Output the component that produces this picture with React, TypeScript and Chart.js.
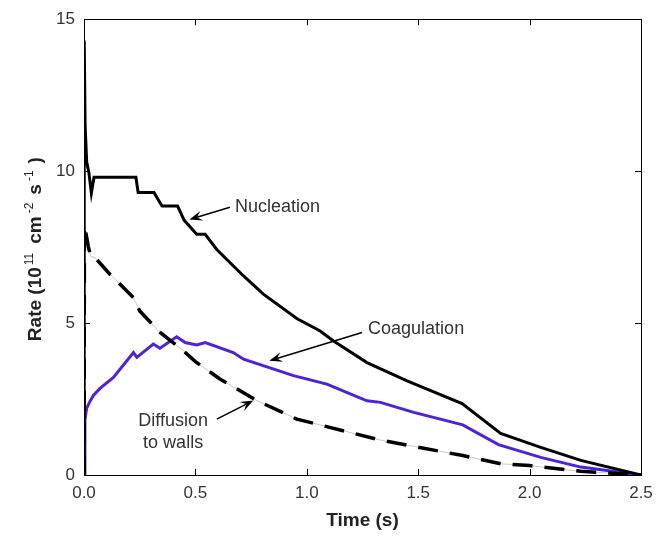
import React, { useEffect, useRef } from 'react';
import { Chart, registerables } from 'chart.js';

Chart.register(...registerables);

// ---- data ----
const xTickValues = [0, 0.5, 1.0, 1.5, 2.0, 2.5];
const yTickValues = [0, 5, 10, 15];

const nucleationTime = [0, 0.001, 0.005, 0.012, 0.022, 0.033, 0.045, 0.233, 0.243, 0.314, 0.35, 0.42, 0.45, 0.506, 0.544, 0.596, 0.716, 0.805, 0.955, 1.06, 1.12, 1.27, 1.45, 1.697, 1.87, 2.05, 2.23, 2.5];
const nucleationRate = [0, 14.3, 11.5, 10.3, 9.95, 9.28, 9.8, 9.8, 9.3, 9.3, 8.85, 8.85, 8.38, 7.92, 7.92, 7.42, 6.55, 5.95, 5.15, 4.74, 4.41, 3.7, 3.1, 2.35, 1.37, 0.91, 0.48, 0];

const coagulationTime = [0, 0.004, 0.012, 0.025, 0.042, 0.072, 0.132, 0.222, 0.237, 0.311, 0.341, 0.416, 0.454, 0.506, 0.544, 0.67, 0.716, 0.94, 1.09, 1.27, 1.33, 1.48, 1.7, 1.86, 2.05, 2.23, 2.5];
const coagulationRate = [0, 1.8, 2.2, 2.4, 2.62, 2.85, 3.21, 4.03, 3.87, 4.31, 4.17, 4.55, 4.36, 4.28, 4.36, 4.03, 3.81, 3.27, 2.99, 2.44, 2.39, 2.06, 1.65, 1.0, 0.58, 0.26, 0];

const diffusionTime = [0, 0.002, 0.01, 0.02, 0.03, 0.05, 0.117, 0.2, 0.222, 0.25, 0.34, 0.446, 0.5, 0.61, 0.776, 0.955, 1.33, 1.7, 1.87, 2.0, 2.23, 2.5];
const diffusionRate = [0, 8.2, 7.9, 7.5, 7.2, 7.15, 6.6, 6.0, 5.84, 5.4, 4.7, 4.09, 3.73, 3.16, 2.45, 1.84, 1.15, 0.64, 0.37, 0.31, 0.12, 0];

// annotations: [text lines, text anchor (data), arrow from (data), arrow to (data)]
const annotationLabels = [
  { lines: ['Nucleation'], align: 'left', at: [0.678, 8.81], from: [0.655, 8.81], to: [0.473, 8.41] },
  { lines: ['Coagulation'], align: 'left', at: [1.275, 4.81], from: [1.248, 4.69], to: [0.832, 3.76] },
  { lines: ['Diffusion', 'to walls'], align: 'center', at: [0.40, 1.76], from: [0.596, 1.84], to: [0.76, 2.45] },
];

const FONT = '"Liberation Sans", Arial, Helvetica, sans-serif';
const PURPLE = '#4d22da';

const toPoints = (xs: number[], ys: number[]) => xs.map((x, i) => ({ x, y: ys[i] }));

const overlay = {
  id: 'overlay',
  afterDraw(chart: any) {
    const { ctx, chartArea: a, scales } = chart;
    const xs = scales.x, ys = scales.y;
    ctx.save();
    // frame
    ctx.strokeStyle = '#000';
    ctx.lineWidth = 1;
    ctx.strokeRect(Math.round(a.left) + 0.5, Math.round(a.top) + 0.5, Math.round(a.right - a.left), Math.round(a.bottom - a.top));
    // inward ticks on all four sides
    const tl = 6;
    ctx.beginPath();
    xTickValues.forEach((v) => {
      const px = Math.round(xs.getPixelForValue(v)) + 0.5;
      ctx.moveTo(px, a.bottom); ctx.lineTo(px, a.bottom - tl);
      ctx.moveTo(px, a.top); ctx.lineTo(px, a.top + tl);
    });
    yTickValues.forEach((v) => {
      const py = Math.round(ys.getPixelForValue(v)) + 0.5;
      ctx.moveTo(a.left, py); ctx.lineTo(a.left + tl, py);
      ctx.moveTo(a.right, py); ctx.lineTo(a.right - tl, py);
    });
    ctx.stroke();

    // annotations
    annotationLabels.forEach((an) => {
      const tx = xs.getPixelForValue(an.at[0]);
      const ty = ys.getPixelForValue(an.at[1]);
      ctx.fillStyle = '#333';
      ctx.font = `18px ${FONT}`;
      ctx.textAlign = an.align as CanvasTextAlign;
      ctx.textBaseline = 'middle';
      an.lines.forEach((l, i) => ctx.fillText(l, tx, ty + i * 22));
      const x1 = xs.getPixelForValue(an.from[0]);
      const y1 = ys.getPixelForValue(an.from[1]);
      const x2 = xs.getPixelForValue(an.to[0]);
      const y2 = ys.getPixelForValue(an.to[1]);
      const ang = Math.atan2(y2 - y1, x2 - x1);
      const hl = 13, hw = 5;
      ctx.strokeStyle = '#000';
      ctx.lineWidth = 1.5;
      ctx.beginPath();
      ctx.moveTo(x1, y1);
      ctx.lineTo(x2 - Math.cos(ang) * hl * 0.6, y2 - Math.sin(ang) * hl * 0.6);
      ctx.stroke();
      ctx.fillStyle = '#000';
      ctx.beginPath();
      ctx.moveTo(x2, y2);
      ctx.lineTo(x2 - Math.cos(ang) * hl + Math.sin(ang) * hw, y2 - Math.sin(ang) * hl - Math.cos(ang) * hw);
      ctx.lineTo(x2 - Math.cos(ang) * hl * 0.6, y2 - Math.sin(ang) * hl * 0.6);
      ctx.lineTo(x2 - Math.cos(ang) * hl - Math.sin(ang) * hw, y2 - Math.sin(ang) * hl + Math.cos(ang) * hw);
      ctx.closePath();
      ctx.fill();
    });

    // x axis title
    ctx.fillStyle = '#222';
    ctx.font = `bold 19px ${FONT}`;
    ctx.textAlign = 'center';
    ctx.textBaseline = 'middle';
    ctx.fillText('Time (s)', (a.left + a.right) / 2, 521);

    // y axis title with superscripts
    const big = `bold 19px ${FONT}`;
    const sup = `12px ${FONT}`;
    const parts: any[] = [
      { t: 'Rate (10', f: big, dy: 0 }, { g: 2 }, { t: '11', f: sup, dy: -8 }, { g: 9 },
      { t: 'cm', f: big, dy: 0 }, { g: 3 }, { t: '-2', f: sup, dy: -8 }, { g: 8 },
      { t: 's', f: big, dy: 0 }, { g: 3 }, { t: '-1', f: sup, dy: -8 }, { g: 7 },
      { t: ')', f: big, dy: 0 },
    ];
    let total = 0;
    parts.forEach((p) => {
      if (p.g) total += p.g;
      else { ctx.font = p.f; p.w = ctx.measureText(p.t).width; total += p.w; }
    });
    ctx.translate(41, (a.top + a.bottom) / 2 + 2);
    ctx.rotate(-Math.PI / 2);
    ctx.textAlign = 'left';
    ctx.textBaseline = 'alphabetic';
    let cx = -total / 2;
    parts.forEach((p) => {
      if (p.g) { cx += p.g; return; }
      ctx.font = p.f;
      ctx.fillText(p.t, cx, p.dy);
      cx += p.w;
    });
    ctx.restore();
  },
};

export default function App() {
  const ref = useRef<HTMLCanvasElement | null>(null);
  useEffect(() => {
    if (!ref.current) return;
    const chart = new Chart(ref.current, {
      type: 'line',
      data: {
        datasets: [
          {
            label: 'Nucleation', data: toPoints(nucleationTime, nucleationRate),
            borderColor: '#000', borderWidth: 3, pointRadius: 0, tension: 0, order: 2,
          },
          {
            label: 'Coagulation', data: toPoints(coagulationTime, coagulationRate),
            borderColor: PURPLE, borderWidth: 3, pointRadius: 0, tension: 0, order: 3,
          },
          {
            label: 'Diffusion to walls', data: toPoints(diffusionTime, diffusionRate),
            borderColor: '#000', borderWidth: 3.5, borderDash: [20, 12], pointRadius: 0, tension: 0, order: 1,
          },
          {
            label: 'Diffusion guide', data: toPoints(diffusionTime, diffusionRate),
            borderColor: '#b0b0b0', borderWidth: 0.7, pointRadius: 0, tension: 0, order: 4,
          },
        ],
      },
      options: {
        animation: false,
        responsive: false,
        parsing: false as any,
        layout: { padding: { top: 18, right: 24, left: 0, bottom: 0 } },
        plugins: { legend: { display: false }, tooltip: { enabled: false } },
        scales: {
          x: {
            type: 'linear', min: 0, max: 2.5,
            afterBuildTicks: (s: any) => { s.ticks = xTickValues.map((v) => ({ value: v })); },
            afterFit: (s: any) => { s.height = 61; },
            grid: { display: false, drawTicks: false, tickLength: 0 },
            border: { display: false },
            ticks: {
              autoSkip: false, maxRotation: 0, padding: 8, color: '#333',
              font: { family: FONT, size: 17 },
              callback: (v: any) => Number(v).toFixed(1),
            },
          },
          y: {
            type: 'linear', min: 0, max: 15,
            afterBuildTicks: (s: any) => { s.ticks = yTickValues.map((v) => ({ value: v })); },
            afterFit: (s: any) => { s.width = 84; },
            grid: { display: false, drawTicks: false, tickLength: 0 },
            border: { display: false },
            ticks: {
              autoSkip: false, padding: 9, color: '#333',
              font: { family: FONT, size: 17 },
              callback: (v: any) => String(v),
            },
          },
        },
      },
      plugins: [overlay],
    });
    return () => chart.destroy();
  }, []);
  return (
    <div style={{ position: 'absolute', left: 0, top: 0, width: 665, height: 536, background: '#fff' }}>
      <canvas ref={ref} width={665} height={536} style={{ display: 'block' }} />
    </div>
  );
}
